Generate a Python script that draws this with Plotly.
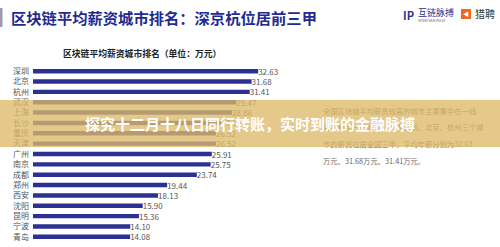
import plotly.graph_objects as go

cities = ["深圳", "北京", "杭州", "武汉", "上海", "长沙", "重庆", "天津", "广州",
          "南京", "成都", "郑州", "西安", "沈阳", "昆明", "宁波", "青岛"]
salaries = [32.63, 31.68, 31.41, 29.47, 28.86, 27.30, 26.52, 26.52, 25.91,
            25.75, 23.74, 19.44, 18.13, 15.90, 15.36, 14.10, 14.08]

header_title = "区块链平均薪资城市排名：深京杭位居前三甲"
chart_title = "区块链平均薪资城市排名（单位：万元）"
banner_text = "探究十二月十八日同行转账，实时到账的金融脉搏"
para_lines = [
    "全国区块链平均薪资较高的城市主要集中在一线",
    "城市和新一线城市，其中深圳、北京、杭州三个城",
    "市的薪资位居全国三甲，平均年薪分别为32.63",
    "万元、31.68万元、31.41万元。",
]

W, H = 500, 247
FONT = "Noto Sans CJK SC"

def fy(px):
    return 1 - px / H

def fx(px):
    return px / W

fig = go.Figure()
fig.add_trace(go.Bar(
    x=salaries, y=cities, orientation="h",
    marker=dict(color="#2a3192", line=dict(width=0)),
    text=[f"{v:.2f}" for v in salaries], textposition="outside",
    constraintext="none",
    textfont=dict(family=FONT, size=8, color="#555555"),
    cliponaxis=False, hoverinfo="skip",
))

# paragraph text as a trace so the banner covers it
para_y = [112, 128, 145, 162]
fig.add_trace(go.Scatter(
    x=[fx(323)] * len(para_lines), y=[fy(p) for p in para_y],
    text=para_lines, mode="text", textposition="middle right",
    textfont=dict(family=FONT, size=7.3, color="#666666"),
    xaxis="x2", yaxis="y2", hoverinfo="skip", showlegend=False,
    cliponaxis=False,
))

fig.update_layout(
    width=W, height=H, margin=dict(l=0, r=0, t=0, b=0),
    paper_bgcolor="white", plot_bgcolor="rgba(0,0,0,0)", showlegend=False,
    bargap=0.57,
    xaxis=dict(domain=[fx(33), fx(33 + 6.9 * 40)], range=[0, 40],
               visible=False, fixedrange=True),
    yaxis=dict(domain=[fy(242), fy(66)], autorange="reversed",
               showgrid=False, showline=False, zeroline=False, ticks="",
               tickfont=dict(family=FONT, size=8, color="#555555"),
               ticklabelstandoff=3),
    xaxis2=dict(domain=[0, 1], range=[0, 1], visible=False, anchor="y2"),
    yaxis2=dict(domain=[0, 1], range=[0, 1], visible=False, anchor="x2"),
)

shapes = [
    # header left marker
    dict(type="rect", xref="paper", yref="paper", x0=fx(0), x1=fx(2.5),
         y0=fy(27), y1=fy(8), fillcolor="#9a9ab0", line=dict(width=0)),
    # banner overlay
    dict(type="rect", xref="paper", yref="paper", x0=0, x1=1,
         y0=fy(147), y1=fy(100), fillcolor="rgba(222,186,105,0.78)",
         line=dict(width=0), layer="above"),
    # logo icons
    dict(type="rect", xref="paper", yref="paper", x0=fx(461), x1=fx(471),
         y0=fy(19), y1=fy(9), fillcolor="#f26522", line=dict(width=0)),
]

annotations = [
    dict(text=f"<b>{header_title}</b>", x=fx(9), y=fy(17.5), xref="paper", yref="paper",
         xanchor="left", yanchor="middle", showarrow=False,
         font=dict(family=FONT, size=15.3, color="#1f2b8e")),
    dict(text=f"<b>{chart_title}</b>", x=fx(142), y=fy(53), xref="paper", yref="paper",
         xanchor="center", yanchor="middle", showarrow=False,
         font=dict(family=FONT, size=8.8, color="#222222")),
    dict(text="<b>IP</b>", x=fx(408), y=fy(15), xref="paper", yref="paper",
         xanchor="center", yanchor="middle", showarrow=False,
         font=dict(family=FONT, size=11, color="#2a3192")),
    dict(text="互链脉搏", x=fx(416), y=fy(13), xref="paper", yref="paper",
         xanchor="left", yanchor="middle", showarrow=False,
         font=dict(family=FONT, size=9, color="#2a3192")),
    dict(text="INTERCHAIN PULSE", x=fx(416), y=fy(21), xref="paper", yref="paper",
         xanchor="left", yanchor="middle", showarrow=False,
         font=dict(family=FONT, size=3, color="#555555")),
    dict(text="<b>◀</b>", x=fx(466), y=fy(14), xref="paper", yref="paper",
         xanchor="center", yanchor="middle", showarrow=False,
         font=dict(family=FONT, size=6, color="white")),
    dict(text="猎聘", x=fx(473), y=fy(14), xref="paper", yref="paper",
         xanchor="left", yanchor="middle", showarrow=False,
         font=dict(family=FONT, size=10, color="#333333")),
    dict(text=f"<b>{banner_text}</b>", x=fx(250), y=fy(124), xref="paper", yref="paper",
         xanchor="center", yanchor="middle", showarrow=False,
         font=dict(family=FONT, size=15, color="white")),
]

fig.update_layout(shapes=shapes, annotations=annotations)
fig.write_html("out.html")
